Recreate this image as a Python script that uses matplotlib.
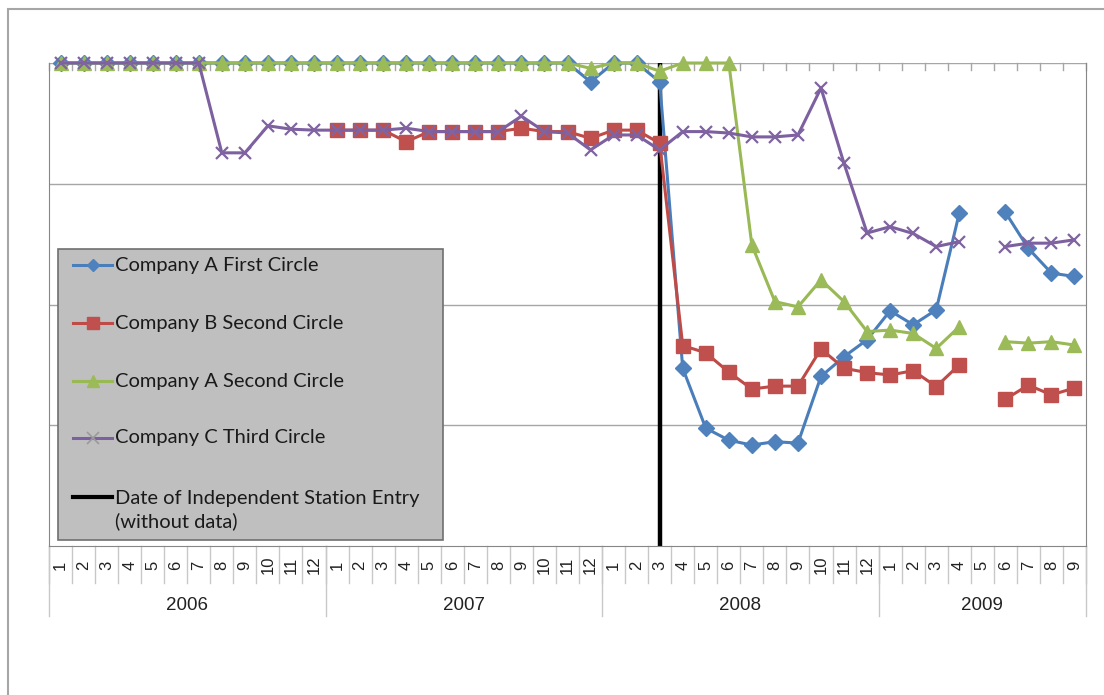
import numpy as np
import matplotlib
matplotlib.use("Agg")
import matplotlib.pyplot as plt
from matplotlib.transforms import blended_transform_factory
from matplotlib.patches import Rectangle

# months shown per year on the category axis
years = ["2006", "2007", "2008", "2009"]
months_per_year = [12, 12, 12, 9]

# series values, one per month from 2006-1 to 2009-9 (None = no data)
a_first = [100] * 23 + [96.1, 100, 100, 96.1, 36.8, 24.4, 21.9, 20.9, 21.6, 21.3, 35.1, 39.2,
                        42.7, 48.7, 45.8, 48.9, 68.9, None, 69.1, 61.6, 56.5, 55.8]
b_second = [None] * 12 + [86.1, 86.1, 86.1, 83.7, 85.8, 85.8, 85.8, 85.8, 86.5, 85.8, 85.8, 84.4,
                          86.1, 86.1, 83.4, 41.5, 40.0, 36.0, 32.5, 33.1, 33.1, 40.8, 36.8, 35.9,
                          35.4, 36.3, 33.0, 37.5, None, 30.4, 33.3, 31.3, 32.7]
a_second = [100] * 23 + [98.9, 100, 100, 98.3, 100, 100, 100, 62.3, 50.6, 49.5, 55.1, 50.6,
                         44.4, 44.7, 44.0, 40.9, 45.4, None, 42.3, 42.0, 42.3, 41.6]
c_third = [100] * 7 + [81.4, 81.4, 87.0, 86.3, 86.1,
                       86.1, 86.1, 86.1, 86.5, 85.8, 85.8, 85.8, 85.8, 89.0, 85.8, 85.5, 82.0,
                       85.1, 85.1, 82.0, 85.8, 85.8, 85.5, 84.7, 84.7, 85.1, 94.8, 79.2, 64.8,
                       66.1, 64.7, 62.0, 63.0, None, 62.0, 62.7, 62.7, 63.4]
entry_month = 26  # 2008-3

labels = ["Company A First Circle", "Company B Second Circle", "Company A Second Circle",
          "Company C Third Circle", "Date of Independent Station Entry\n(without data)"]


def arr(vals):
    return np.array([np.nan if v is None else v for v in vals], dtype=float)


month_labels = []
for n in months_per_year:
    month_labels += [str(m) for m in range(1, n + 1)]
x = np.arange(len(month_labels))

fig = plt.figure(figsize=(11.04, 6.95), dpi=100)
fig.patches.append(Rectangle((8 / 1104, -0.05), 1.1, 1 - 9 / 695 + 0.05, transform=fig.transFigure,
                             fill=False, edgecolor="#a6a6a6", lw=1.5))
ax = fig.add_axes([49 / 1104, 1 - 546 / 695, 1037 / 1104, 483 / 695])

ax.set_xlim(-0.5, len(x) - 0.5)
ax.set_ylim(0, 100)
for g in [25, 50, 75, 100]:
    ax.axhline(g, color="#a6a6a6", lw=1, zorder=0)

ax.plot([entry_month, entry_month], [0, 100], color="black", lw=3.2, zorder=1)

lw = 2.2
styles = [
    dict(color="#4a7ebb", marker="D", ms=8, mfc="#4f81bd", mec="#4f81bd"),
    dict(color="#be4b48", marker="s", ms=9.5, mfc="#c0504d", mec="#c0504d"),
    dict(color="#98b954", marker="^", ms=10, mfc="#9bbb59", mec="#9bbb59"),
    dict(color="#7d60a0", marker="x", ms=9, mec="#8064a2", mew=1.6),
]
for i, vals in enumerate([a_first, b_second, a_second, c_third]):
    ax.plot(x, arr(vals), lw=lw, clip_on=False, zorder=2 + i, **styles[i])

for s in ax.spines.values():
    s.set_color("#868686")
ax.spines["top"].set_visible(False)
ax.set_yticks([])

# top axis ticks at category boundaries
for b in np.arange(len(x) + 1) - 0.5:
    ax.plot([b, b], [100, 98.6], color="#a6a6a6", lw=1, clip_on=False, zorder=0)

# category and year labels below the plot
ax.set_xticks([])
tr = blended_transform_factory(ax.transData, ax.transAxes)
for b in np.arange(len(x) + 1) - 0.5:
    ax.plot([b, b], [0, -37 / 483], color="#c8c8c8", lw=1, transform=tr, clip_on=False)
for xi, lab in zip(x, month_labels):
    ax.text(xi, -19 / 483, lab, rotation=90, ha="center", va="center", fontsize=12,
            family="Liberation Sans", color="#222222", transform=tr)
start = 0
for yr, n in zip(years, months_per_year):
    ax.plot([start - 0.5, start - 0.5], [0, -70 / 483], color="#c8c8c8", lw=1, transform=tr, clip_on=False)
    ax.text(start + n / 2 - 0.5, -59 / 483, yr, ha="center", va="center", fontsize=13.5,
            family="Liberation Sans", color="#222222", transform=tr)
    start += n
ax.plot([start - 0.5, start - 0.5], [0, -70 / 483], color="#c8c8c8", lw=1, transform=tr, clip_on=False)


# legend box, laid out in pixels of the axes
def px(xp, yp):
    return (xp - 49) / 1037, (546 - yp) / 483


x0, y0 = px(58, 540)
x1, y1 = px(443, 249)
ax.add_patch(Rectangle((x0, y0), x1 - x0, y1 - y0, transform=ax.transAxes, facecolor="#bfbfbf",
                       edgecolor="#6f6f6f", lw=1.2, zorder=10, clip_on=False))
rows = [265, 323, 381, 438, 497]
leg_styles = [
    dict(color="#4a7ebb", marker="D", ms=6, mfc="#4f81bd", mec="#4f81bd"),
    dict(color="#be4b48", marker="s", ms=9, mfc="#c0504d", mec="#c0504d"),
    dict(color="#98b954", marker="^", ms=8, mfc="#9bbb59", mec="#9bbb59"),
    dict(color="#7d60a0", marker="x", ms=8, mec="#9a9a9a", mew=1.2),
    dict(color="black", lw=3),
]
for yp, lab, st in zip(rows, labels, leg_styles):
    hx0, hy = px(73, yp)
    hx1, _ = px(112, yp)
    st = dict(st)
    ax.plot([hx0, hx1], [hy, hy], lw=st.pop("lw", lw), transform=ax.transAxes, clip_on=False,
            zorder=11, **{k: v for k, v in st.items() if k != "marker"})
    if "marker" in st:
        ax.plot([(hx0 + hx1) / 2], [hy], transform=ax.transAxes, clip_on=False, zorder=12,
                ls="none", **st)
    # second line of a two-line label sits 26 px lower, so centre the block between them
    n_lines = lab.count("\n") + 1
    tx, ty = px(115, yp + 13 * (n_lines - 1))
    ax.text(tx, ty, lab, transform=ax.transAxes, ha="left", va="center",
            fontsize=14.5, family="Lato", color="#1a1a1a", zorder=12, linespacing=1.3)

fig.savefig("out.png", dpi=100)
